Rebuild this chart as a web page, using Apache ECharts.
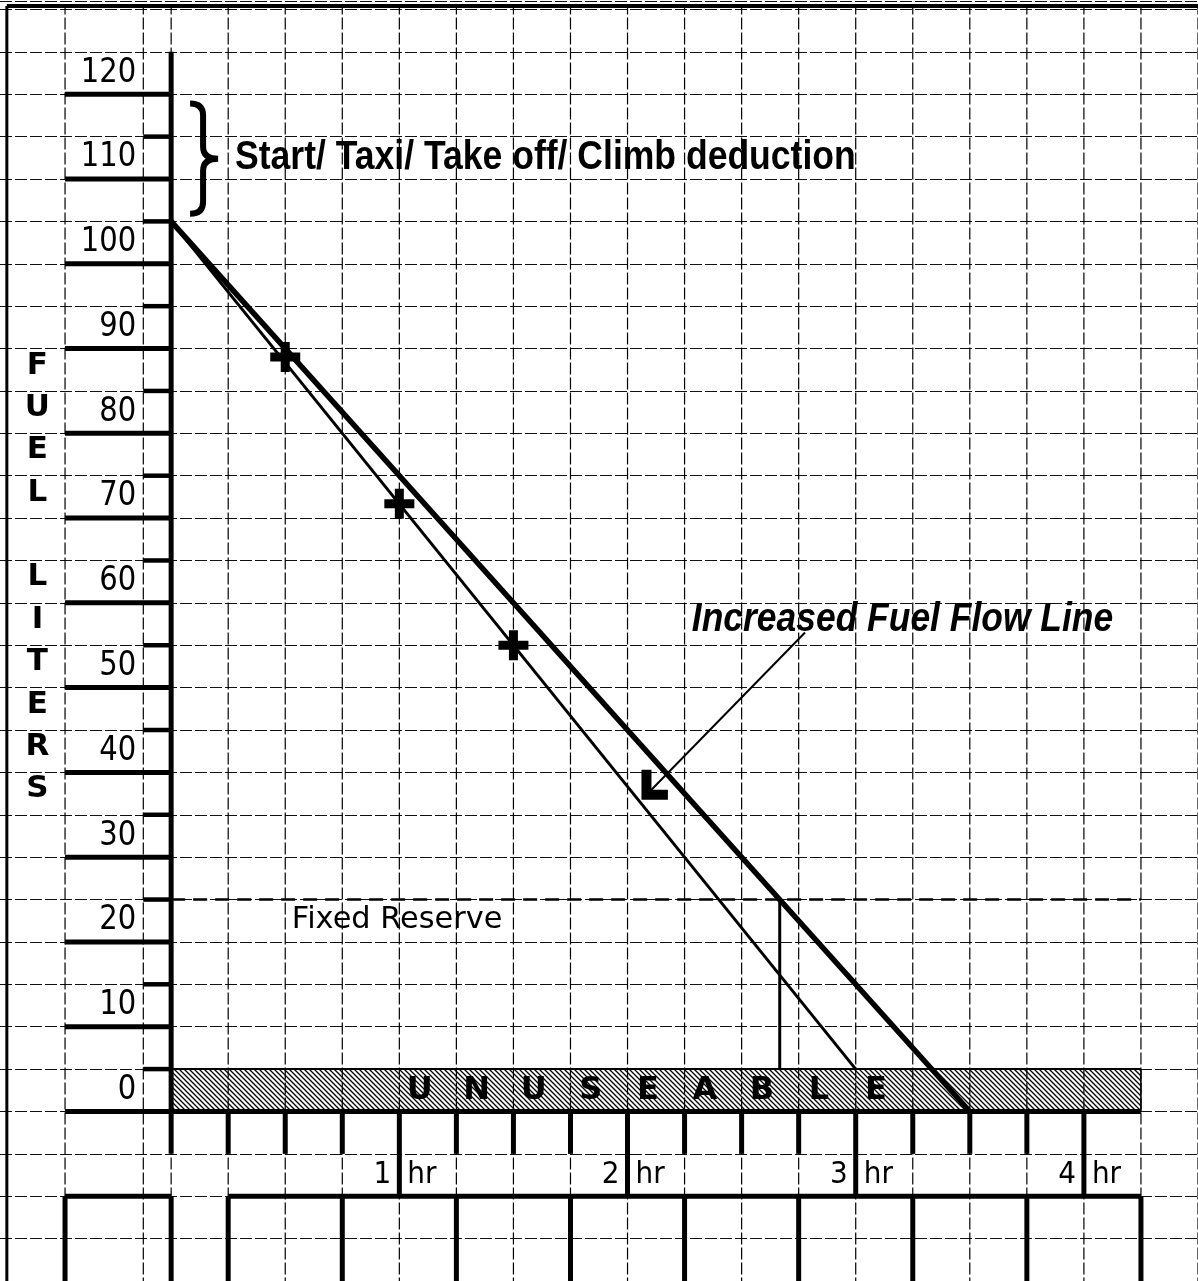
<!DOCTYPE html>
<html>
<head>
<meta charset="utf-8">
<title>Fuel liters vs hours</title>
<script src="https://cdn.jsdelivr.net/npm/echarts@6/dist/echarts.min.js"></script>
<style>
  html, body { margin: 0; padding: 0; background: #fff; }
  #chart { width: 1198px; height: 1281px; }
</style>
</head>
<body>
<div id="chart"></div>
<script>
// ---- data ----
var fuelTicks = [0, 10, 20, 30, 40, 50, 60, 70, 80, 90, 100, 110, 120];
var hourTicks = [1, 2, 3, 4];
var normalFlow = [[0, 100], [3, 0]];
var increasedFlow = [[0, 100], [3.5, -5]];
var checkPoints = [[0.5, 84], [1, 66.7], [1.5, 50]];
var reserveFuel = 20;
var reserveEndurance = 2.667;
var axisTitle = ['F', 'U', 'E', 'L', '', 'L', 'I', 'T', 'E', 'R', 'S'];
var unusableLetters = ['U', 'N', 'U', 'S', 'E', 'A', 'B', 'L', 'E'];
var startText = 'Start/ Taxi/ Take off/ Climb deduction';
var flowText = 'Increased Fuel Flow Line';
var reserveText = 'Fixed Reserve';

var chart = echarts.init(document.getElementById('chart'));

// hatch pattern for the unuseable band
var pc = document.createElement('canvas');
pc.width = 5; pc.height = 5;
var pctx = pc.getContext('2d');
pctx.fillStyle = '#fff';
pctx.fillRect(0, 0, 5, 5);
pctx.strokeStyle = '#000';
pctx.lineWidth = 1.3;
pctx.beginPath();
pctx.moveTo(-1, -1); pctx.lineTo(6, 6);
pctx.moveTo(-1, 4); pctx.lineTo(1, 6);
pctx.moveTo(4, -1); pctx.lineTo(6, 1);
pctx.stroke();

var measureCtx = document.createElement('canvas').getContext('2d');
function textWidth(text, font) {
    measureCtx.font = font;
    return measureCtx.measureText(text).width;
}

// ---- chart furniture (frame, ruled lines, ticks) ----
var segs = [];
function seg(x1, y1, x2, y2, w, dash) {
    segs.push([x1, y1, x2, y2, w, dash ? 1 : 0]);
}
var top_ = 125.4, bottom_ = -26, leftBorder = -0.72, boxLeft = -0.465, boxInner = -0.122, bandEnd = 4.25;

seg(boxLeft, bottom_, boxLeft, top_, 1.2, true);
seg(boxInner, bottom_, boxInner, top_, 1.2, true);
for (var k = 0; k <= 18; k++) {
    seg(k / 4, bottom_, k / 4, top_, 1.2, true);
}
seg(leftBorder, top_, 4.5, top_, 4);
seg(leftBorder, top_, leftBorder, bottom_, 3);

seg(0, 120, 0, -10, 5);
fuelTicks.forEach(function (v) {
    if (v <= 110) seg(boxInner, v, 0, v, 4.5);
    seg(boxLeft, v - 5, 0, v - 5, 5);
});
seg(0, -5, bandEnd, -5, 5);
seg(0, 0, bandEnd, 0, 2);
seg(bandEnd, 0, bandEnd, -5, 1.5);
for (var q = 1; q <= 16; q++) {
    seg(q / 4, -5, q / 4, q % 4 === 0 ? -15 : -10, 5);
}
seg(boxLeft, -15, 0, -15, 5);
seg(0.25, -15, bandEnd, -15, 5);
[boxLeft, 0, 0.25, 0.75, 1.25, 1.75, 2.25, 2.75, 3.25, 3.75, 4.25].forEach(function (t) {
    seg(t, -15, t, bottom_, 5);
});

// ---- text placement ----
var labelSpecs = [];
var numFont = '33px "DejaVu Sans", sans-serif';
var hourFont = '31px "DejaVu Sans", sans-serif';
fuelTicks.forEach(function (v) {
    labelSpecs.push({ t: -0.153, v: v - 2.5, text: String(v), font: numFont, align: 'right', scaleX: 0.88 });
});
axisTitle.forEach(function (c, i) {
    if (c) labelSpecs.push({ t: -0.586, v: 83.0 - 5 * i, text: c, font: 'bold 31px "DejaVu Sans", sans-serif', align: 'center' });
});
unusableLetters.forEach(function (c, i) {
    labelSpecs.push({ t: 1.089 + 0.25 * i, v: -2.6, text: c, font: 'bold 32px "DejaVu Sans", sans-serif', align: 'center' });
});
hourTicks.forEach(function (h) {
    labelSpecs.push({ t: h - 0.035, v: -12.5, text: String(h), font: hourFont, align: 'right', scaleX: 0.9 });
    labelSpecs.push({ t: h + 0.035, v: -12.5, text: 'hr', font: hourFont, align: 'left', scaleX: 0.9 });
});
labelSpecs.push({ t: 0.28, tEnd: 3.0, v: 107.5, text: startText,
    font: 'bold 41px "Liberation Sans Narrow", "Liberation Sans", sans-serif', align: 'left' });
labelSpecs.push({ t: 2.282, tEnd: 4.128, v: 53.0, text: flowText,
    font: 'italic bold 41px "Liberation Sans Narrow", "Liberation Sans", sans-serif', align: 'left' });
labelSpecs.push({ t: 0.529, tEnd: 1.452, v: 17.6, text: reserveText,
    font: '31px "DejaVu Sans", sans-serif', align: 'left' });

var plusPath = 'path://M35,0 H65 V35 H100 V65 H65 V100 H35 V65 H0 V35 H35 Z';
var ruleStyle = { color: '#111', width: 1.2, type: [12, 3] };

var option = {
    animation: false,
    backgroundColor: '#fff',
    grid: { left: 0, top: 1, width: 1201, height: 1283.5 },
    xAxis: {
        type: 'value', min: -0.75, max: 4.5, interval: 0.25,
        axisLine: { show: false }, axisTick: { show: false },
        axisLabel: { show: false }, splitLine: { show: false }
    },
    yAxis: {
        type: 'value', min: -25, max: 126, interval: 5,
        axisLine: { show: false }, axisTick: { show: false },
        axisLabel: { show: false },
        splitLine: { show: true, lineStyle: ruleStyle }
    },
    series: [
        {
            // unuseable band
            type: 'line', data: [], z: 3, silent: true,
            markArea: {
                silent: true,
                itemStyle: { color: { image: pc, repeat: 'repeat' }, borderWidth: 0 },
                data: [[{ coord: [0, 0] }, { coord: [bandEnd, -5] }]]
            }
        },
        {
            type: 'custom', z: 4, silent: true, clip: false,
            dimensions: ['x1', 'y1', 'x2', 'y2', 'w', 'dash'],
            encode: { x: [0, 2], y: [1, 3] },
            data: segs,
            renderItem: function (params, api) {
                var p1 = api.coord([api.value(0), api.value(1)]);
                var p2 = api.coord([api.value(2), api.value(3)]);
                return {
                    type: 'line',
                    shape: { x1: p1[0], y1: p1[1], x2: p2[0], y2: p2[1] },
                    style: {
                        stroke: '#000', lineWidth: api.value(4),
                        lineDash: api.value(5) ? [12, 3] : null
                    }
                };
            }
        },
        {
            name: 'Normal flow', type: 'line', data: normalFlow, z: 5,
            symbol: 'none', lineStyle: { color: '#000', width: 3 }
        },
        {
            name: 'Increased flow', type: 'line', data: increasedFlow, z: 5,
            symbol: 'none', lineStyle: { color: '#000', width: 5.5 }
        },
        {
            name: 'Fixed reserve', type: 'line', data: [[0, reserveFuel], [bandEnd, reserveFuel]], z: 5,
            symbol: 'none', lineStyle: { color: '#000', width: 2.5, type: [14, 8] }
        },
        {
            type: 'line', data: [[reserveEndurance, reserveFuel], [reserveEndurance, 0]], z: 5,
            symbol: 'none', lineStyle: { color: '#000', width: 3 }
        },
        {
            type: 'scatter', data: checkPoints, z: 6,
            symbol: plusPath, symbolSize: 30, itemStyle: { color: '#000', opacity: 1 }
        },
        {
            // pointer to the increased fuel flow line
            type: 'line', data: [[2.778, 51.5], [2.092, 32.6]], z: 6,
            symbol: 'none', lineStyle: { color: '#000', width: 2 }
        },
        {
            type: 'line', data: [[2.083, 35.3], [2.083, 32.35], [2.177, 32.35]], z: 6,
            symbol: 'none', lineStyle: { color: '#000', width: 10, cap: 'butt', join: 'miter' }
        },
        {
            // brace for start / taxi / take-off / climb
            type: 'custom', z: 6, silent: true, clip: false,
            data: [[0.083, 113.9]],
            renderItem: function (params, api) {
                var a = api.coord([0.083, 113.9]);
                var m = api.coord([0.206, 107.4]);
                var b = api.coord([0.083, 100.9]);
                var xs = a[0] + 13, r = 12;
                var d = 'M' + a[0] + ' ' + a[1] +
                    ' Q' + xs + ' ' + a[1] + ' ' + xs + ' ' + (a[1] + r) +
                    ' L' + xs + ' ' + (m[1] - r) +
                    ' Q' + xs + ' ' + m[1] + ' ' + m[0] + ' ' + m[1] +
                    ' Q' + xs + ' ' + m[1] + ' ' + xs + ' ' + (m[1] + r) +
                    ' L' + xs + ' ' + (b[1] - r) +
                    ' Q' + xs + ' ' + b[1] + ' ' + b[0] + ' ' + b[1];
                return {
                    type: 'path',
                    shape: { pathData: d },
                    style: { fill: null, stroke: '#000', lineWidth: 6 }
                };
            }
        },
        {
            type: 'custom', z: 7, silent: true, clip: false,
            data: labelSpecs.map(function (s) { return [s.t, s.v]; }),
            renderItem: function (params, api) {
                var s = labelSpecs[params.dataIndex];
                var p = api.coord([s.t, s.v]);
                var sx = s.scaleX || 1;
                if (s.tEnd != null) {
                    var pe = api.coord([s.tEnd, s.v]);
                    sx = (pe[0] - p[0]) / textWidth(s.text, s.font);
                }
                return {
                    type: 'text', x: p[0], y: p[1], scaleX: sx,
                    style: {
                        text: s.text, font: s.font, fill: '#000',
                        align: s.align, verticalAlign: 'middle'
                    }
                };
            }
        }
    ]
};

chart.setOption(option);
window.onresize = chart.resize;
</script>
</body>
</html>
